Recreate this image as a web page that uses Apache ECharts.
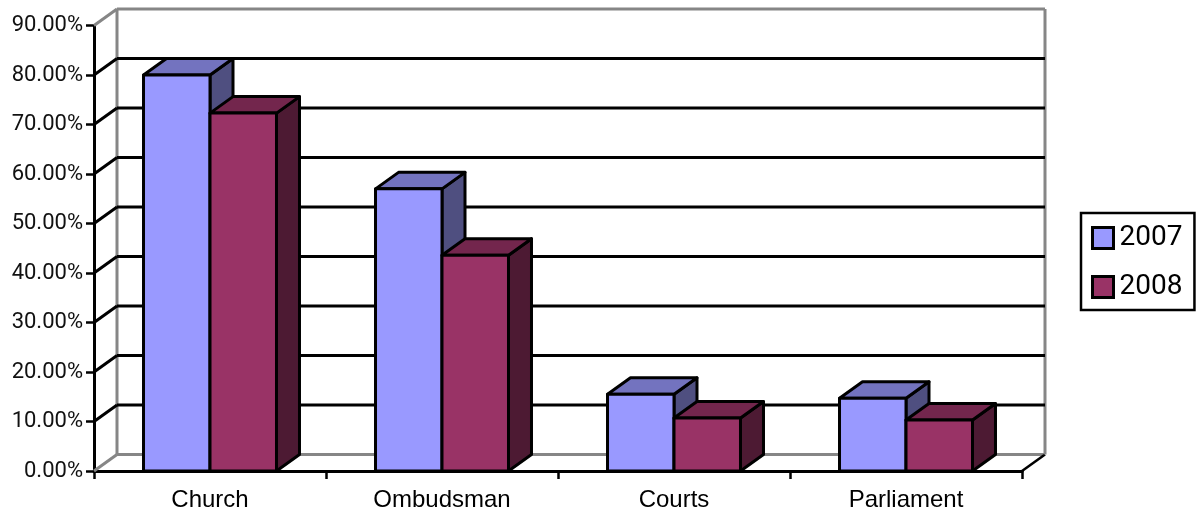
<!DOCTYPE html>
<html>
<head>
<meta charset="utf-8">
<title>Chart</title>
<script src="https://cdn.jsdelivr.net/npm/echarts@6/dist/echarts.min.js"></script>
<style>
html, body { margin: 0; padding: 0; background: #fff; }
#content { width: 1196px; height: 511px; }
</style>
</head>
<body>
<div id="content"></div>
<script>
var categories = ["Church", "Ombudsman", "Courts", "Parliament"];
var years = ["2007", "2008"];
var values2007 = [80, 57, 15.5, 14.7];
var values2008 = [72.3, 43.6, 10.7, 10.3];
var axisTicks = [0, 10, 20, 30, 40, 50, 60, 70, 80, 90];

var FONT = '"Liberation Sans", Arial, sans-serif';
var FONT_NUM = 'Roboto, "Liberation Sans", sans-serif';
// 3d depth of the box, in pixels
var DX = 23;
var DY = 16.5;
var BAR_RATIO = 0.2866; // bar width / category width

// front, top, side
var colors2007 = ["#9999ff", "#7373bf", "#4f4f80"];
var colors2008 = ["#993366", "#73264d", "#4d1a33"];

var myChart = echarts.init(document.getElementById("content"));

function toPairs(values) {
    var res = [];
    for (var i = 0; i < values.length; i++) {
        res.push([i, values[i]]);
    }
    return res;
}

// one 3d bar: front face, top face, side face
function barRenderer(colors, side) {
    return function(params, api) {
        var top = api.coord([api.value(0), api.value(1)]);
        var bottom = api.coord([api.value(0), 0]);
        var w = api.size([1, 0])[0] * BAR_RATIO;
        var x0 = side < 0 ? top[0] - w : top[0];
        var x1 = x0 + w;
        var stroke = { stroke: "#000", lineWidth: 3, lineJoin: "round" };
        function face(points, fill) {
            return {
                type: "polygon",
                shape: { points: points },
                style: Object.assign({ fill: fill }, stroke),
            };
        }
        return {
            type: "group",
            children: [
                face([[x1, top[1]], [x1 + DX, top[1] - DY], [x1 + DX, bottom[1] - DY], [x1, bottom[1]]], colors[2]),
                face([[x0, top[1]], [x0 + DX, top[1] - DY], [x1 + DX, top[1] - DY], [x1, top[1]]], colors[1]),
                face([[x0, top[1]], [x1, top[1]], [x1, bottom[1]], [x0, bottom[1]]], colors[0]),
            ],
        };
    };
}

// back wall + side wall lines for one axis tick
function wallRenderer(params, api) {
    var v = api.value(1);
    var y = api.coord([0, v])[1];
    var x0 = params.coordSys.x;
    var x1 = x0 + params.coordSys.width;
    var edge = v == 0 || v == axisTicks[axisTicks.length - 1];
    var children = [];
    children.push({
        type: "line",
        shape: { x1: x0, y1: y, x2: x0 + DX, y2: y - DY },
        style: { stroke: edge ? "#868686" : "#000", lineWidth: 3 },
    });
    children.push({
        type: "line",
        shape: { x1: x0 + DX, y1: y - DY, x2: x1 + DX, y2: y - DY },
        style: { stroke: edge ? "#868686" : "#000", lineWidth: 3 },
    });
    if (v == 0) {
        // floor right edge and the two back verticals
        var yTop = api.coord([0, axisTicks[axisTicks.length - 1]])[1];
        children.push({
            type: "line",
            shape: { x1: x1, y1: y, x2: x1 + DX, y2: y - DY },
            style: { stroke: "#000", lineWidth: 2.5 },
        });
        children.push({
            type: "line",
            shape: { x1: x0 + DX, y1: y - DY, x2: x0 + DX, y2: yTop - DY },
            style: { stroke: "#868686", lineWidth: 3 },
        });
        children.push({
            type: "line",
            shape: { x1: x1 + DX, y1: y - DY, x2: x1 + DX, y2: yTop - DY },
            style: { stroke: "#868686", lineWidth: 3 },
        });
    }
    return { type: "group", children: children };
}

myChart.setOption({
    animation: false,
    grid: { left: 94, right: 174, top: 25.5, bottom: 40, containLabel: false, outerBoundsMode: "none" },
    legend: {
        data: years,
        orient: "vertical",
        left: 1081,
        top: 213,
        padding: [11, 12, 9, 10],
        itemWidth: 21,
        itemHeight: 21,
        itemGap: 21,
        icon: "rect",
        backgroundColor: "#fff",
        borderColor: "#000",
        borderWidth: 2.5,
        itemStyle: { borderColor: "#000", borderWidth: 3 },
        textStyle: { fontFamily: FONT_NUM, fontSize: 28, color: "#000", padding: [0, 0, 0, 1] },
        selectedMode: false,
    },
    xAxis: {
        type: "category",
        data: categories,
        axisLine: { lineStyle: { color: "#000", width: 3 } },
        axisTick: { show: true, alignWithLabel: false, length: 8, lineStyle: { color: "#000", width: 2.5 } },
        axisLabel: { fontFamily: FONT, fontSize: 24, color: "#000", margin: 17 },
    },
    yAxis: {
        type: "value",
        min: 0,
        max: 90,
        interval: 10,
        splitLine: { show: false },
        axisLine: { show: true, lineStyle: { color: "#000", width: 3 } },
        axisTick: { show: true, length: 8, lineStyle: { color: "#000", width: 2.5 } },
        axisLabel: {
            fontFamily: FONT_NUM,
            fontSize: 22,
            color: "#111",
            margin: 11,
            formatter: function(v) { return v.toFixed(2) + "%"; },
        },
    },
    series: [
        {
            type: "custom",
            name: "walls",
            silent: true,
            z: 1,
            data: axisTicks.map(function(t) { return [0, t]; }),
            renderItem: wallRenderer,
        },
        {
            type: "custom",
            name: years[0],
            z: 2,
            itemStyle: { color: colors2007[0] },
            data: toPairs(values2007),
            renderItem: barRenderer(colors2007, -1),
        },
        {
            type: "custom",
            name: years[1],
            z: 3,
            itemStyle: { color: colors2008[0] },
            data: toPairs(values2008),
            renderItem: barRenderer(colors2008, 1),
        },
    ],
});
</script>
</body>
</html>
